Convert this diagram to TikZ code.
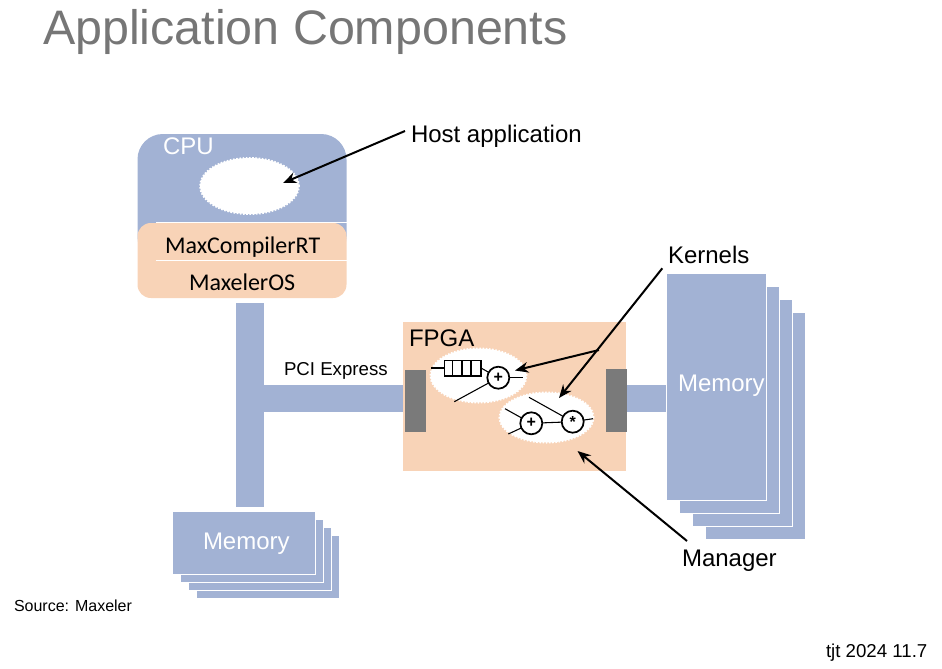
\documentclass[tikz,border=0pt]{standalone}
\usepackage{fontspec}
\setmainfont{Liberation Sans}
\newfontfamily\carl{Carlito}
\usetikzlibrary{arrows.meta,shapes.geometric}
\definecolor{bl}{HTML}{A2B2D4}
\definecolor{org}{HTML}{F8D3B7}
\definecolor{gry}{HTML}{7A7A7A}
\definecolor{ttl}{HTML}{767676}
\newcommand\fs[1]{\fontsize{#1}{#1}\selectfont}
% \bx{name}{x0}{y0}{x1}{y1}{style}
\newcommand\bx[6]{%
 \pgfmathsetmacro\bw{(#4-#2)*0.75}\pgfmathsetmacro\bh{(#5-#3)*0.75}%
 \node[inner sep=0,outer sep=0,minimum width=\bw pt,minimum height=\bh pt,#6] (#1) at ({(#2+#4)/2},{(#3+#5)/2}) {};}
\tikzset{
 x=0.75pt,y=-0.75pt,
 lbl/.style={anchor=base west,inner sep=0,outer sep=0},
 sheet/.style={fill=bl,draw=white,line width=0.75pt},
 bus/.style={fill=bl},
 port/.style={fill=gry},
 arr/.style={draw=black,line width=1.5pt,-{Stealth[length=10pt,width=8pt]},shorten >=0pt},
 wire/.style={draw=black,line width=0.8pt},
 blob/.style={ellipse,fill=white,draw=white,dash pattern=on 1.2pt off 1.2pt,line width=1.5pt,inner sep=0,outer sep=0},
 op/.style={circle,draw=black,fill=white,line width=1.3pt,inner sep=0,outer sep=0,minimum size=16.5pt},
 cell/.style={draw=black,line width=1.2pt,fill=white},
 thinline/.style={draw=white,line width=1pt},
}
\begin{document}
\begin{tikzpicture}
\useasboundingbox (0,0) rectangle (942,668);
% title and notes
\node[lbl,text=ttl] (title) at (43,44.5) {\fs{36.3}Application Components};
\node[lbl] (source) at (14,611) {\fs{12}Source: Maxeler};
\node[lbl] (stamp) at (826,657) {\fs{14}tjt 2024 11.7};
% buses
\bx{busv}{236}{303}{264}{507}{bus}
\bx{bush}{264}{385}{403}{412}{bus}
\bx{busr}{626}{385}{668}{412}{bus}
% CPU
\bx{cpu}{137.5}{134}{346.5}{262}{fill=bl,rounded corners=19pt}
\bx{rt}{137.5}{223}{346.5}{298}{fill=org,rounded corners=10pt}
\coordinate (wa1) at (156,222.5); \coordinate (wa2) at (346.5,222.5);
\coordinate (wb1) at (156,260.5); \coordinate (wb2) at (346.5,260.5);
\draw[thinline] (wa1) -- (wa2);
\draw[thinline] (wb1) -- (wb2);
\node[blob,minimum width=74pt,minimum height=42pt] (host) at (249.5,186) {};
\node[lbl,text=white] (cpulbl) at (163,154) {\fs{18}CPU};
\node[lbl] (mcrt) at (165,253) {\carl\fs{18}MaxCompilerRT};
\node[lbl] (mos) at (189,290) {\carl\fs{18}MaxelerOS};
% lower memory stack
\bx{ml4}{196.3}{535}{339.7}{598}{sheet}
\bx{ml3}{188.3}{527}{331.7}{590}{sheet}
\bx{ml2}{180.3}{519}{323.7}{582}{sheet}
\bx{ml1}{172.3}{511.5}{315.7}{574}{sheet}
\node[lbl,text=white] (mltext) at (203,549) {\fs{18}Memory};
% right memory stack
\bx{mr4}{705}{312}{805}{539}{sheet}
\bx{mr3}{692}{299}{792}{526}{sheet}
\bx{mr2}{679.3}{286}{779}{513.3}{sheet}
\bx{mr1}{666.7}{273.3}{766.7}{500.7}{sheet}
\node[lbl,text=white] (mrtext) at (678,391) {\fs{18}Memory};
% FPGA
\bx{fpga}{403}{322}{626}{471}{fill=org}
\bx{pl}{405}{370}{426}{432}{port}
\bx{pr}{606}{369}{627}{432}{port}
\node[lbl] (fpgalbl) at (409,346) {\fs{18}FPGA};
\node[lbl] (pci) at (284,375) {\fs{14}PCI Express};
\node[blob,minimum width=72pt,minimum height=40.5pt] (k1) at (478.5,375.5) {};
\node[blob,minimum width=70.5pt,minimum height=37.5pt] (k2) at (546.5,417.5) {};
% kernel 1
\bx{f1}{444.3}{360.3}{452.3}{375.7}{cell}
\bx{f2}{452.3}{360.3}{461.7}{375.7}{cell}
\bx{f3}{461.7}{360.3}{471}{375.7}{cell}
\bx{f4}{471}{360.3}{481}{375.7}{cell}
\node[op] (p1) at (498.3,377.7) {\fs{12}\textbf{+}};
\coordinate (a1) at (431,368); \coordinate (a2) at (522.7,377.7); \coordinate (a3) at (454.3,401.7);
\draw[wire] (a1) -- (f1.west);
\draw[wire] (f4.east) -- (p1);
\draw[wire] (p1) -- (a2);
\draw[wire] (a3) -- (p1);
% kernel 2
\node[op] (p2) at (531.3,423.3) {\fs{12}\textbf{+}};
\node[op] (m2) at (572.7,421.7) {\fs{12}\textbf{*}};
\coordinate (b1) at (505,408.7); \coordinate (b2) at (508.3,434); \coordinate (b3) at (529,397.3); \coordinate (b4) at (593,418.7);
\draw[wire] (b1) -- (p2);
\draw[wire] (b2) -- (p2);
\draw[wire] (p2) -- (m2);
\draw[wire] (b3) -- (m2);
\draw[wire] (m2) -- (b4);
% callouts
\node[lbl] (hostlbl) at (411,142) {\fs{18}Host application};
\node[lbl] (kern) at (668,263) {\fs{18}Kernels};
\node[lbl] (mgr) at (682,566) {\fs{18}Manager};
\coordinate (hs) at (405,131); \coordinate (ht) at (283,183);
\coordinate (ks) at (662.3,268.3); \coordinate (kt) at (559,398);
\coordinate (kj) at (599,350); \coordinate (kt2) at (515,370.5);
\coordinate (ms) at (687,541); \coordinate (mt) at (577.5,451);
\draw[arr] (hs) -- (ht);
\draw[arr] (ks) -- (kt);
\draw[arr] (kj) -- (kt2);
\draw[arr] (ms) -- (mt);
\end{tikzpicture}
\end{document}
